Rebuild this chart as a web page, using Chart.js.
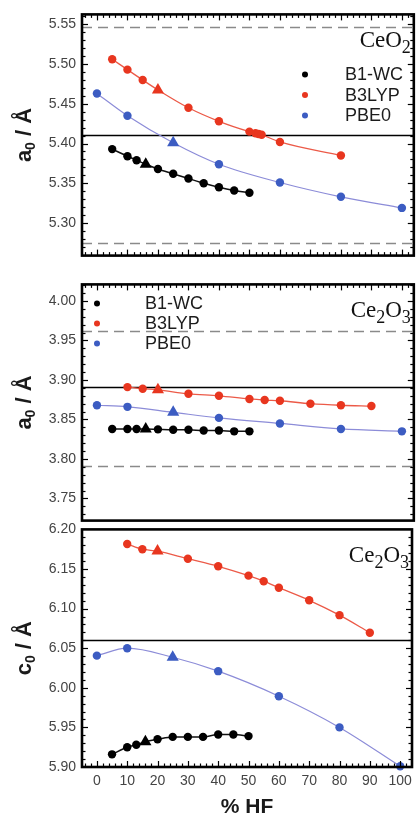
<!DOCTYPE html>
<html><head><meta charset="utf-8">
<script src="https://cdn.jsdelivr.net/npm/chart.js@4/dist/chart.umd.min.js"></script>
<style>
html,body{margin:0;padding:0;background:#fff;}
body{width:418px;height:821px;position:relative;overflow:hidden;}
canvas{position:absolute;left:0;}
</style></head>
<body>
<canvas id="cA" width="418" height="270" style="top:0px"></canvas>
<canvas id="cB" width="418" height="265" style="top:270px"></canvas>
<canvas id="cC" width="418" height="306" style="top:515px"></canvas>
<script>
// ---------- data ----------
const hfB1WC = [5, 10, 13, 16, 20, 25, 30, 35, 40, 45, 50];
const hfB3LYP_CeO2 = [5, 10, 15, 20, 30, 40, 50, 52, 53, 54, 60, 80];
const hfB3LYP_Ce2O3 = [10, 15, 20, 30, 40, 50, 55, 60, 70, 80, 90];
const hfPBE0 = [0, 10, 25, 40, 60, 80, 100];

const stdB1WC = 16, stdB3LYP = 20, stdPBE0 = 25;

const ceo2_a_B1WC  = [5.393, 5.384, 5.379, 5.374, 5.368, 5.362, 5.356, 5.350, 5.345, 5.341, 5.338];
const ceo2_a_B3LYP = [5.506, 5.493, 5.480, 5.4675, 5.445, 5.428, 5.415, 5.413, 5.412, 5.411, 5.402, 5.385];
const ceo2_a_PBE0  = [5.463, 5.435, 5.401, 5.374, 5.351, 5.333, 5.319];

const ce2o3_a_B1WC  = [3.838, 3.838, 3.838, 3.838, 3.8375, 3.837, 3.837, 3.836, 3.836, 3.835, 3.835];
const ce2o3_a_B3LYP = [3.891, 3.889, 3.8875, 3.8825, 3.880, 3.876, 3.8746, 3.8737, 3.870, 3.868, 3.867];
const ce2o3_a_PBE0  = [3.868, 3.866, 3.859, 3.852, 3.845, 3.838, 3.835];

const ce2o3_c_B1WC  = [5.916, 5.925, 5.928, 5.932, 5.935, 5.938, 5.938, 5.938, 5.941, 5.941, 5.939];
const ce2o3_c_B3LYP = [6.1816, 6.175, 6.1726, 6.163, 6.1534, 6.1416, 6.1346, 6.1264, 6.1105, 6.0917, 6.0696];
const ce2o3_c_PBE0  = [6.0406, 6.050, 6.0386, 6.021, 5.9894, 5.950, 5.901];

const expCeO2a = 5.411, bandCeO2a = [5.547, 5.275];
const expCe2O3a = 3.891, bandCe2O3a = [3.962, 3.791];
const expCe2O3c = 6.060;

const xTicks = [0, 10, 20, 30, 40, 50, 60, 70, 80, 90, 100];
const yTicksA = [5.30, 5.35, 5.40, 5.45, 5.50, 5.55];
const yTicksB = [3.75, 3.80, 3.85, 3.90, 3.95, 4.00];
const yTicksC = [5.90, 5.95, 6.00, 6.05, 6.10, 6.15, 6.20];
const legendNames = ['B1-WC', 'B3LYP', 'PBE0'];

// ---------- style ----------
const C_BLACK = '#000000', C_RED = '#e8361f', C_BLUE = '#3c5cc2';
const L_BLACK = '#111111', L_RED = '#ec5a48', L_BLUE = '#8c8cd8';
const SANS = '"Liberation Sans", Arial, sans-serif';
const SERIF = '"Liberation Serif", "Times New Roman", serif';

function series(xs, ys, std, col, lineCol, lw) {
  return {
    data: xs.map((x, i) => ({x: x, y: ys[i]})),
    borderColor: lineCol, borderWidth: lw,
    pointBackgroundColor: col, pointBorderColor: col, pointBorderWidth: 0,
    pointStyle: xs.map(x => x === std ? 'triangle' : 'circle'),
    pointRadius: xs.map(x => x === std ? 7 : 4.2),
    tension: 0.4, cubicInterpolationMode: 'monotone',
    clip: 12, fill: false
  };
}

function drawRich(ctx, parts, x, y, align, size, subSize, subDy, font, weight) {
  const w0 = weight ? weight + ' ' : '';
  let w = 0;
  parts.forEach(p => { ctx.font = w0 + (p.sub ? subSize : size) + 'px ' + font; w += ctx.measureText(p.t).width; });
  let cx = align === 'right' ? x - w : (align === 'center' ? x - w / 2 : x);
  ctx.textAlign = 'left';
  parts.forEach(p => {
    ctx.font = w0 + (p.sub ? subSize : size) + 'px ' + font;
    ctx.fillText(p.t, cx, y + (p.sub ? subDy : 0));
    cx += ctx.measureText(p.t).width;
  });
}

const deco = {
  id: 'deco',
  beforeDatasetsDraw(chart) {
    const o = chart.options.plugins.deco;
    const {ctx, chartArea: a, scales: {y}} = chart;
    ctx.save();
    ctx.beginPath(); ctx.rect(a.left, a.top, a.right - a.left, a.bottom - a.top); ctx.clip();
    (o.dashed || []).forEach(v => {
      const py = Math.round(y.getPixelForValue(v)) + 0.5;
      ctx.strokeStyle = '#8a8a8a'; ctx.lineWidth = 1.6; ctx.setLineDash([10, 6]);
      ctx.beginPath(); ctx.moveTo(a.left, py); ctx.lineTo(a.right, py); ctx.stroke();
    });
    ctx.setLineDash([]);
    if (o.exp !== undefined) {
      const py = Math.round(y.getPixelForValue(o.exp)) + 0.5;
      ctx.strokeStyle = '#000'; ctx.lineWidth = 1.5;
      ctx.beginPath(); ctx.moveTo(a.left, py); ctx.lineTo(a.right, py); ctx.stroke();
    }
    ctx.restore();
  },
  afterDraw(chart) {
    const o = chart.options.plugins.deco;
    const {ctx, chartArea: a, scales: {x, y}} = chart;
    ctx.save();
    ctx.strokeStyle = '#000'; ctx.lineWidth = 1.2;
    const tick = (x1, y1, x2, y2) => { ctx.beginPath(); ctx.moveTo(x1, y1); ctx.lineTo(x2, y2); ctx.stroke(); };
    for (let v = -4; v <= 104; v += 2) {
      const px = Math.round(x.getPixelForValue(v)) + 0.5;
      if (px <= a.left + 1 || px >= a.right - 1) continue;
      const len = (v % 10 === 0 && v >= 0 && v <= 100) ? 6 : 3.5;
      if (o.topTicks) tick(px, a.top, px, a.top + len);
      if (o.bottomTicks) tick(px, a.bottom, px, a.bottom - len);
    }
    const y0 = Math.ceil(y.min * 100 - 1e-6), y1 = Math.floor(y.max * 100 + 1e-6);
    for (let k = y0; k <= y1; k++) {
      const py = Math.round(y.getPixelForValue(k / 100)) + 0.5;
      if (py <= a.top + 1 || py >= a.bottom - 1) continue;
      const len = (k % 5 === 0) ? 6 : 3.5;
      tick(a.left, py, a.left + len, py);
      tick(a.right, py, a.right - len, py);
    }
    ctx.lineWidth = 2.6;
    ctx.strokeRect(a.left, a.top, a.right - a.left, a.bottom - a.top);
    ctx.fillStyle = '#111';
    ctx.textBaseline = 'alphabetic';
    drawRich(ctx, o.formula, a.right - 3, a.top + 33, 'right', 23, 18, 6, SERIF, '');
    if (o.legend) {
      const L = o.legend;
      const cols = [C_BLACK, C_RED, C_BLUE];
      legendNames.forEach((n, i) => {
        const cy = a.top + L.y0 + i * L.dy;
        ctx.fillStyle = cols[i];
        ctx.beginPath(); ctx.arc(L.mx, cy, 3, 0, Math.PI * 2); ctx.fill();
        ctx.fillStyle = '#1c1c1c';
        ctx.font = '18px ' + SANS; ctx.textAlign = 'left'; ctx.textBaseline = 'middle';
        ctx.fillText(n, L.tx, cy + 1);
      });
    }
    ctx.save();
    ctx.translate(25, (a.top + a.bottom) / 2);
    ctx.rotate(-Math.PI / 2);
    ctx.fillStyle = '#1a1a1a'; ctx.textBaseline = 'middle';
    drawRich(ctx, [{t: o.yLetter}, {t: '0', sub: true}, {t: ' / Å'}], 0, 0, 'center', 22, 14, 6, SANS, 'bold');
    ctx.restore();
    if (o.xTitle) {
      ctx.fillStyle = '#1a1a1a'; ctx.font = 'bold 21px ' + SANS;
      ctx.textAlign = 'center'; ctx.textBaseline = 'middle';
      ctx.fillText(o.xTitle, (a.left + a.right) / 2, a.bottom + 40);
    }
    ctx.restore();
  }
};

function makeChart(id, datasets, yMin, yMax, yTicks, pad, showX, decoOpts) {
  return new Chart(document.getElementById(id), {
    type: 'line',
    data: {datasets: datasets},
    plugins: [deco],
    options: {
      responsive: false, animation: false, devicePixelRatio: 1,
      layout: {padding: pad},
      plugins: {legend: {display: false}, tooltip: {enabled: false}, deco: decoOpts},
      scales: {
        x: {
          type: 'linear', min: -4.9, max: 103.9, display: showX,
          grid: {display: false, drawTicks: false, tickLength: 0}, border: {display: false},
          afterBuildTicks: s => { s.ticks = xTicks.map(v => ({value: v})); },
          afterFit: s => { if (showX) s.height = 54; },
          ticks: {padding: 6, color: '#444', font: {family: SANS, size: 14}, maxRotation: 0, autoSkip: false,
                  callback: v => String(v)}
        },
        y: {
          type: 'linear', min: yMin, max: yMax,
          grid: {display: false, drawTicks: false, tickLength: 0}, border: {display: false},
          afterBuildTicks: s => { s.ticks = yTicks.map(v => ({value: v})); },
          afterFit: s => { s.width = 82; },
          ticks: {padding: 6, color: '#444', font: {family: SANS, size: 14}, autoSkip: false,
                  callback: v => Number(v).toFixed(2)}
        }
      }
    }
  });
}

makeChart('cA', [
  series(hfPBE0, ceo2_a_PBE0, stdPBE0, C_BLUE, L_BLUE, 1.2),
  series(hfB3LYP_CeO2, ceo2_a_B3LYP, stdB3LYP, C_RED, L_RED, 1.3),
  series(hfB1WC, ceo2_a_B1WC, stdB1WC, C_BLACK, L_BLACK, 1.5)
], 5.259, 5.5625, yTicksA, {top: 14, bottom: 13, left: 0, right: 3}, false, {
  exp: expCeO2a, dashed: bandCeO2a, topTicks: true, bottomTicks: true, yLetter: 'a',
  formula: [{t: 'CeO'}, {t: '2', sub: true}],
  legend: {mx: 305, tx: 345, y0: 60, dy: 20.5}
});

makeChart('cB', [
  series(hfPBE0, ce2o3_a_PBE0, stdPBE0, C_BLUE, L_BLUE, 1.2),
  series(hfB3LYP_Ce2O3, ce2o3_a_B3LYP, stdB3LYP, C_RED, L_RED, 1.3),
  series(hfB1WC, ce2o3_a_B1WC, stdB1WC, C_BLACK, L_BLACK, 1.5)
], 3.722, 4.021, yTicksB, {top: 13, bottom: 10, left: 0, right: 3}, false, {
  exp: expCe2O3a, dashed: bandCe2O3a, topTicks: true, bottomTicks: false, yLetter: 'a',
  formula: [{t: 'Ce'}, {t: '2', sub: true}, {t: 'O'}, {t: '3', sub: true}],
  legend: {mx: 97, tx: 145, y0: 19, dy: 20}
});

makeChart('cC', [
  series(hfPBE0, ce2o3_c_PBE0, stdPBE0, C_BLUE, L_BLUE, 1.2),
  series(hfB3LYP_Ce2O3, ce2o3_c_B3LYP, stdB3LYP, C_RED, L_RED, 1.3),
  series(hfB1WC, ce2o3_c_B1WC, stdB1WC, C_BLACK, L_BLACK, 1.5)
], 5.90, 6.20, yTicksC, {top: 10, bottom: 0, left: 0, right: 3}, true, {
  exp: expCe2O3c, dashed: [], topTicks: false, bottomTicks: true, yLetter: 'c', xTitle: '% HF',
  formula: [{t: 'Ce'}, {t: '2', sub: true}, {t: 'O'}, {t: '3', sub: true}],
  legend: null
});
</script>
</body></html>
